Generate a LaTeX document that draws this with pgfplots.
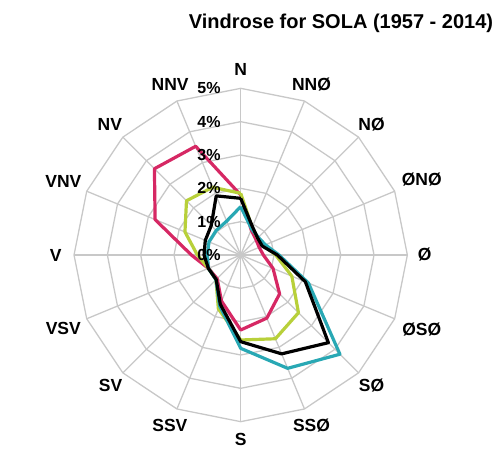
\documentclass[border=0pt]{standalone}
\usepackage{pgfplots}
\pgfplotsset{compat=1.18}
\usepackage{fontspec}
\setmainfont{Liberation Sans}
\definecolor{gridgray}{RGB}{200,200,200}
\definecolor{rpink}{RGB}{214,40,100}
\definecolor{rlime}{RGB}{184,208,58}
\definecolor{rteal}{RGB}{40,168,180}
\begin{document}
\begin{tikzpicture}
\begin{axis}[
  x=33.333bp, y=33.333bp, xmin=-5, xmax=5, ymin=-5, ymax=5,
  hide axis, clip=false,
]
% polygon rings
\pgfplotsinvokeforeach{1,2,3,4,5}{
\addplot[gridgray, line width=1.3bp, data cs=polar] coordinates {(90,#1) (67.5,#1) (45,#1) (22.5,#1) (0,#1) (-22.5,#1) (-45,#1) (-67.5,#1) (-90,#1) (-112.5,#1) (-135,#1) (-157.5,#1) (180,#1) (157.5,#1) (135,#1) (112.5,#1) (90,#1)};
}
% spokes
\pgfplotsinvokeforeach{90,67.5,45,22.5,0,-22.5,-45,-67.5,-90,-112.5,-135,-157.5,180,157.5,135,112.5}{
\addplot[gridgray, line width=1.3bp, data cs=polar] coordinates {(#1,0) (#1,5)};
}
% series
\addplot[rpink, line width=3.2bp, line join=round, data cs=polar] coordinates {
(90,1.8) (67.5,0.82) (45,0.65) (22.5,0.6) (0,0.68) (-22.5,1.05) (-45,1.65) (-67.5,2.05)
(-90,2.25) (-112.5,1.5) (-135,1.0) (-157.5,1.05) (180,1.48) (157.5,2.78) (135,3.66) (112.5,3.53) (90,1.8)};
\addplot[rlime, line width=3.2bp, line join=round, data cs=polar] coordinates {
(90,1.85) (67.5,0.9) (45,0.72) (22.5,0.75) (0,1.05) (-22.5,1.66) (-45,2.45) (-67.5,2.72)
(-90,2.55) (-112.5,1.75) (-135,1.05) (-157.5,1.05) (180,1.3) (157.5,1.81) (135,2.3) (112.5,2.2) (90,1.85)};
\addplot[rteal, line width=3.2bp, line join=round, data cs=polar] coordinates {
(90,1.45) (67.5,0.85) (45,0.75) (22.5,0.8) (0,1.15) (-22.5,2.2) (-45,4.21) (-67.5,3.68)
(-90,2.8) (-112.5,1.65) (-135,1.05) (-157.5,1.05) (180,1.0) (157.5,1.03) (135,1.04) (112.5,1.1) (90,1.45)};
\addplot[black, line width=3.2bp, line join=round, data cs=polar] coordinates {
(90,1.7) (67.5,0.92) (45,0.72) (22.5,0.7) (0,1.1) (-22.5,2.1) (-45,3.72) (-67.5,3.21)
(-90,2.6) (-112.5,1.6) (-135,1.04) (-157.5,1.05) (180,1.1) (157.5,1.15) (135,1.25) (112.5,1.92) (90,1.7)};
\coordinate (C) at (axis cs:0,0);
\end{axis}
% direction labels
\begin{scope}[every node/.style={font=\bfseries\fontsize{17.5bp}{17.5bp}\selectfont, anchor=center}]
\node at ([shift={(90:186bp)}]C) {N};
\node at ([shift={(67.5:185bp)}]C) {NNØ};
\node at ([shift={(45:185bp)}]C) {NØ};
\node at ([shift={(22.5:196bp)}]C) {ØNØ};
\node at ([shift={(0:184bp)}]C) {Ø};
\node at ([shift={(-22.5:196bp)}]C) {ØSØ};
\node at ([shift={(-45:185bp)}]C) {SØ};
\node at ([shift={(-67.5:185bp)}]C) {SSØ};
\node at ([shift={(-90:184bp)}]C) {S};
\node at ([shift={(-112.5:185bp)}]C) {SSV};
\node at ([shift={(-135:184bp)}]C) {SV};
\node at ([shift={(-157.5:192bp)}]C) {VSV};
\node at ([shift={(180:185bp)}]C) {V};
\node at ([shift={(157.5:192bp)}]C) {VNV};
\node at ([shift={(135:185bp)}]C) {NV};
\node at ([shift={(112.5:184.5bp)}]C) {NNV};
\end{scope}
% radial tick labels
\begin{scope}[every node/.style={font=\bfseries\fontsize{16bp}{16bp}\selectfont, anchor=east, inner sep=0pt}]
\node at ([shift={(-20bp,0bp)}]C) {0\%};
\node at ([shift={(-20bp,33.333bp)}]C) {1\%};
\node at ([shift={(-20bp,66.667bp)}]C) {2\%};
\node at ([shift={(-20bp,100bp)}]C) {3\%};
\node at ([shift={(-20bp,133.333bp)}]C) {4\%};
\node at ([shift={(-20bp,166.667bp)}]C) {5\%};
\end{scope}
% title
\node[anchor=base, font=\bfseries\fontsize{20bp}{20bp}\selectfont] at ([shift={(100.3bp,226.7bp)}]C) {Vindrose for SOLA (1957 - 2014)};
\pgfresetboundingbox
\path[use as bounding box] ([shift={(-240.7bp,-195bp)}]C) rectangle ([shift={(255.3bp,255bp)}]C);
\end{tikzpicture}
\end{document}
